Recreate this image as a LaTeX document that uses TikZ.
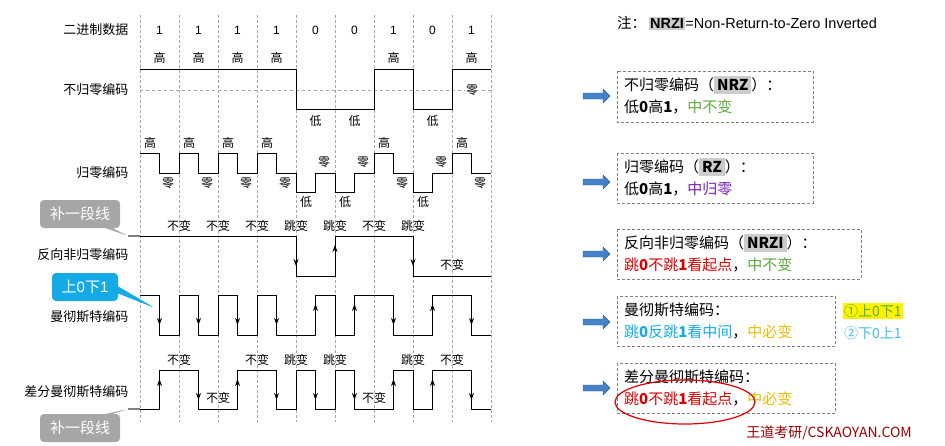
\documentclass[tikz,border=0pt]{standalone}
\usepackage{fontspec}
\setmainfont{Liberation Sans}
\newfontfamily\cjk{Noto Sans CJK SC}
\usetikzlibrary{arrows.meta,shapes.callouts}
\definecolor{grn}{RGB}{90,170,60}
\definecolor{purp}{RGB}{120,30,180}
\definecolor{cyanb}{RGB}{20,170,230}
\definecolor{gold}{RGB}{240,190,0}
\definecolor{arrb}{RGB}{70,130,200}
\tikzset{
 grid/.style={densely dashed,gray!70,line width=0.5pt},
 sig/.style={black,line width=1pt},
 lab/.style={font=\cjk\fontsize{12}{13}\selectfont,inner sep=1pt},
 rowlab/.style={font=\cjk\fontsize{13}{14}\selectfont,anchor=east},
 arr/.style={-{Stealth[length=7pt,width=5pt]},line width=1pt},
 box/.style={draw=gray,densely dashed,anchor=north west,inner sep=0pt},
 btxt/.style={font=\cjk\fontsize{15}{17}\selectfont,anchor=west,inner sep=0pt},
 barrow/.style={fill=arrb,draw=arrb!70!black,line width=0.4pt},
 gcall/.style={rectangle callout,rounded corners=4pt,fill=gray!70,text=white,font=\cjk\fontsize{15}{17}\selectfont,minimum width=80pt,minimum height=28pt},
}
\begin{document}
\begin{tikzpicture}[x=1pt,y=-1pt]
\useasboundingbox (0,0) rectangle (945,445);
% grid
\foreach \x in {140,179,218,257,296,335,374,413,452,491}
  \draw[grid] (\x,15) -- (\x,422);
% binary
\node[rowlab] (lb) at (132,30) {二进制数据};
\foreach \b [count=\i from 0] in {1,1,1,1,0,0,1,0,1}
  \node[font=\fontsize{12}{13}\selectfont] (b\i) at ({159.5+39*\i},30) {\b};
% NRZ
\node[rowlab] (l1) at (132,90) {不归零编码};
\draw[grid,dashed] (140,90) -- (491,90);
\draw[sig] (140,69) -- (296,69) -- (296,109) -- (374,109) -- (374,69) -- (413,69) -- (413,109) -- (452,109) -- (452,69) -- (491,69);
\foreach \i in {0,1,2,3,6,8} \node[lab] at ({159.5+39*\i},58) {高};
\foreach \i in {4,5,7} \node[lab] at ({159.5+39*\i},121) {低};
\node[lab,fill=white] at (472,90) {零};
% RZ
\node[rowlab] (l2) at (132,173) {归零编码};
\draw[sig] (140,153)--(159.5,153)--(159.5,173)--(179,173)--(179,153)--(198.5,153)--(198.5,173)--(218,173)--(218,153)--(237.5,153)--(237.5,173)--(257,173)--(257,153)--(276.5,153)--(276.5,173)--(296,173)--(296,192)--(315.5,192)--(315.5,173)--(335,173)--(335,192)--(354.5,192)--(354.5,173)--(374,173)--(374,153)--(393.5,153)--(393.5,173)--(413,173)--(413,192)--(432.5,192)--(432.5,173)--(452,173)--(452,153)--(471.5,153)--(471.5,173)--(491,173);
\foreach \i in {0,1,2,3,6,8} {\node[lab] at ({150+39*\i},143) {高}; \node[lab] at ({168+39*\i},183) {零};}
\foreach \i in {4,5,7} {\node[lab] at ({306+39*(\i-4)},202) {低}; \node[lab] at ({324+39*(\i-4)},162) {零};}
% NRZI
\node[rowlab] (l3) at (132,255) {反向非归零编码};
\coordinate (n0) at (128,236);
\draw[gray,line width=1.5pt] (n0) -- (140,236);
\draw[sig] (140,236) -- (296,236) -- (296,276) -- (335,276) -- (335,236) -- (413,236) -- (413,276) -- (491,276);
\draw[arr] (296,236) -- (296,266); \draw[arr] (335,276) -- (335,245); \draw[arr] (413,236) -- (413,266);
\foreach \x/\t in {179/不变,218/不变,257/不变,296/跳变,335/跳变,374/不变,413/跳变} \node[lab] at (\x,226) {\t};
\node[lab] at (452,265) {不变};
% Manchester
\node[rowlab] (l4) at (132,317) {曼彻斯特编码};
\draw[sig] (140,295)--(159.5,295)--(159.5,335)--(179,335)--(179,295)--(198.5,295)--(198.5,335)--(218,335)--(218,295)--(237.5,295)--(237.5,335)--(257,335)--(257,295)--(276.5,295)--(276.5,335)--(315.5,335)--(315.5,295)--(335,295)--(335,335)--(354.5,335)--(354.5,295)--(393.5,295)--(393.5,335)--(432.5,335)--(432.5,295)--(471.5,295)--(471.5,335)--(491,335);
\foreach \x in {159.5,198.5,237.5,276.5,393.5,471.5} \draw[arr] (\x,295) -- (\x,325);
\foreach \x in {315.5,354.5,432.5} \draw[arr] (\x,335) -- (\x,304);
% Diff Manchester
\node[rowlab] (l5) at (132,392) {差分曼彻斯特编码};
\coordinate (d0) at (128,409);
\draw[gray,line width=1.5pt] (d0) -- (140,409);
\draw[sig] (140,409)--(159.5,409)--(159.5,370)--(198.5,370)--(198.5,409)--(237.5,409)--(237.5,370)--(276.5,370)--(276.5,409)--(296,409)--(296,370)--(315.5,370)--(315.5,409)--(335,409)--(335,370)--(354.5,370)--(354.5,409)--(393.5,409)--(393.5,370)--(413,370)--(413,409)--(432.5,409)--(432.5,370)--(471.5,370)--(471.5,409)--(491,409);
\foreach \x in {159.5,237.5,393.5,432.5} \draw[arr] (\x,409) -- (\x,379);
\foreach \x in {198.5,276.5,315.5,354.5,471.5} \draw[arr] (\x,370) -- (\x,400);
\foreach \x/\t in {179/不变,257/不变,296/跳变,335/跳变,413/跳变,452/不变} \node[lab] at (\x,360) {\t};
\foreach \x in {218,374} \node[lab] at (\x,398) {不变};
% callouts
\node[gcall,callout absolute pointer={(n0)}] (c1) at (80,214) {补一段线};
\node[gcall,callout absolute pointer={(d0)}] (c2) at (80,428) {补一段线};
\node[rectangle callout,rounded corners=4pt,fill=cyanb,text=white,font=\fontsize{15}{17}\selectfont,minimum width=66pt,minimum height=28pt,callout absolute pointer={(155,308)}] (c3) at (85,287) {{\cjk 上}0{\cjk 下}1};
% note
\node[anchor=west,font=\fontsize{14.5}{16}\selectfont,inner sep=0pt] (note) at (617,23) {{\cjk 注：}\,{\setlength{\fboxsep}{1.5pt}\colorbox{gray!40}{\bfseries NRZI}}=Non-Return-to-Zero Inverted};
% block arrows
\foreach \y in {96,182,254,322,388}
  \draw[barrow] (583,\y-3) -- (603,\y-3) -- (603,\y-7) -- (610,\y) -- (603,\y+7) -- (603,\y+3) -- (583,\y+3) -- cycle;
\draw[box] (617,71) rectangle (813,122);
\node[btxt] (t1) at (624,85) {不归零编码（\colorbox{gray!40}{\bfseries NRZ}）：};
\node[btxt] (t1b) at (624,107) {低{\bfseries 0}高{\bfseries 1}，\textcolor{grn}{中不变}};
\draw[box] (617,153) rectangle (813,203);
\node[btxt] (t2) at (624,167) {归零编码（\colorbox{gray!40}{\bfseries RZ}）：};
\node[btxt] (t2b) at (624,189) {低{\bfseries 0}高{\bfseries 1}，\textcolor{purp}{中归零}};
\draw[box] (617,229) rectangle (861,279);
\node[btxt] (t3) at (624,243) {反向非归零编码（\colorbox{gray!40}{\bfseries NRZI}）：};
\node[btxt] (t3b) at (624,265) {\textcolor{red!85!black}{跳{\bfseries 0}不跳{\bfseries 1}看起点}，\textcolor{grn}{中不变}};
\draw[box] (617,296) rectangle (835,346);
\node[btxt] (t4) at (624,310) {曼彻斯特编码：};
\node[btxt] (t4b) at (624,332) {\textcolor{cyanb}{跳{\bfseries 0}反跳{\bfseries 1}看中间}，\textcolor{gold}{中必变}};
\draw[box] (617,363) rectangle (835,413);
\node[btxt] (t5) at (624,377) {差分曼彻斯特编码：};
\node[btxt] (t5b) at (624,399) {\textcolor{red!85!black}{跳{\bfseries 0}不跳{\bfseries 1}看起点}，\textcolor{gold}{中必变}};
\node[anchor=west,fill=yellow,inner sep=1pt,text=grn,font=\cjk\fontsize{14}{16}\selectfont] (o1) at (843,311) {①上0下1};
\node[anchor=west,inner sep=1pt,text=cyanb!80,font=\cjk\fontsize{14}{16}\selectfont] (o2) at (843,333) {②下0上1};
\draw[red!85!black,line width=1.2pt] (685,402) ellipse (70pt and 22pt);
\node[anchor=east,text=red!60!black,font=\cjk\fontsize{14}{16}\selectfont,inner sep=0pt] (wm) at (912,433) {王道考研/CSKAOYAN.COM};
\end{tikzpicture}
\end{document}
